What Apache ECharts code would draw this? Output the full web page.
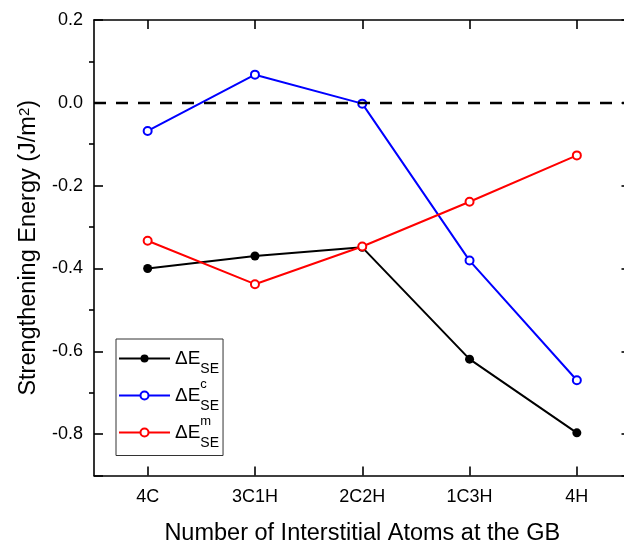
<!DOCTYPE html>
<html>
<head>
<meta charset="utf-8">
<script src="https://cdn.jsdelivr.net/npm/echarts@6/dist/echarts.min.js"></script>
<style>
html,body{margin:0;padding:0;background:#fff;}
#c{width:624px;height:541px;}
</style>
</head>
<body>
<div id="c"></div>
<script>
// ---- data ----
const categories = ['4C', '3C1H', '2C2H', '1C3H', '4H'];
const seriesNames = ['dE_SE', 'dE_c_SE', 'dE_m_SE'];
const totalSE = [-0.400, -0.370, -0.349, -0.619, -0.797];
const chemSE = [-0.068, 0.068, -0.002, -0.381, -0.670];
const mechSE = [-0.333, -0.438, -0.347, -0.239, -0.127];
const yMin = -0.9, yMax = 0.2;
const refLine = 0;

const FONT = '"Liberation Sans", Arial, Helvetica, sans-serif';
const legendText = {
  'dE_SE': '{E|ΔE}{sub|SE}',
  'dE_c_SE': '{E|ΔE}{sup|c}{sub|SE}',
  'dE_m_SE': '{E|ΔE}{sup|m}{sub|SE}'
};
const axisLine = {show: true, onZero: false, lineStyle: {color: '#000', width: 1.6}};

const chart = echarts.init(document.getElementById('c'), null, {renderer: 'canvas'});
chart.setOption({
  animation: false,
  backgroundColor: '#fff',
  textStyle: {fontFamily: FONT},
  grid: {left: 94, top: 20, width: 536.5, height: 455.5, containLabel: false, outerBoundsMode: 'none'},
  legend: {
    orient: 'vertical',
    left: 116, top: 339,
    padding: [10, 4, 5, 2],
    itemGap: 1,
    itemWidth: 51, itemHeight: 10,
    borderColor: '#333', borderWidth: 1,
    backgroundColor: '#fff',
    selectedMode: false,
    data: seriesNames,
    formatter: n => legendText[n],
    textStyle: {
      fontFamily: FONT, color: '#000',
      rich: {
        E: {fontSize: 19, fontFamily: FONT, color: '#000', lineHeight: 36, verticalAlign: 'middle'},
        sup: {fontSize: 13, fontFamily: FONT, color: '#000', lineHeight: 22, verticalAlign: 'top', width: 0},
        sub: {fontSize: 14, fontFamily: FONT, color: '#000', lineHeight: 14, verticalAlign: 'bottom'}
      }
    }
  },
  xAxis: [{
    type: 'category', data: categories, position: 'bottom', boundaryGap: true,
    axisLine: axisLine,
    axisTick: {show: true, inside: true, alignWithLabel: true, length: 9, lineStyle: {color: '#000', width: 1.6}},
    axisLabel: {fontSize: 18, color: '#000', fontFamily: FONT, margin: 13},
    splitLine: {show: false},
    name: 'Number of Interstitial Atoms at the GB', nameLocation: 'middle', nameGap: 46,
    nameTextStyle: {fontSize: 23.5, color: '#000', fontFamily: FONT}
  }, {
    type: 'category', data: categories, position: 'top', boundaryGap: true,
    axisLine: axisLine,
    axisTick: {show: true, inside: true, alignWithLabel: true, length: 9, lineStyle: {color: '#000', width: 1.6}},
    axisLabel: {show: false}, splitLine: {show: false}
  }],
  yAxis: [{
    type: 'value', min: yMin, max: yMax, splitNumber: 5, position: 'left',
    axisLine: axisLine,
    axisTick: {show: true, inside: true, length: 9, lineStyle: {color: '#000', width: 1.6}},
    minorTick: {show: true, splitNumber: 2, length: -5, lineStyle: {color: '#000', width: 1.6}},
    axisLabel: {fontSize: 18, color: '#000', fontFamily: FONT, margin: 11,
      formatter: v => Math.abs(v - yMin) < 1e-6 ? '' : v.toFixed(1)},
    splitLine: {show: false},
    name: 'Strengthening Energy (J/m{sup|2})', nameLocation: 'middle', nameGap: 53,
    nameTextStyle: {fontSize: 23.5, color: '#000', fontFamily: FONT,
      rich: {sup: {fontSize: 15, fontFamily: FONT, color: '#000', verticalAlign: 'top', lineHeight: 22}}}
  }, {
    type: 'value', min: yMin, max: yMax, splitNumber: 5, position: 'right',
    axisLine: axisLine,
    axisTick: {show: true, inside: true, length: 9, lineStyle: {color: '#000', width: 1.6}},
    axisLabel: {show: false}, splitLine: {show: false}
  }],
  series: [{
    name: seriesNames[0], type: 'line', data: totalSE,
    symbol: 'circle', symbolSize: 9,
    itemStyle: {color: '#000'},
    lineStyle: {color: '#000', width: 2},
    markLine: {
      silent: true, symbol: ['none', 'none'], label: {show: false},
      lineStyle: {color: '#000', width: 2.4, type: [12, 10]},
      data: [{yAxis: refLine}]
    },
    z: 3
  }, {
    name: seriesNames[1], type: 'line', data: chemSE,
    symbol: 'emptyCircle', symbolSize: 8,
    itemStyle: {color: '#0000ff', borderColor: '#0000ff', borderWidth: 1.8},
    lineStyle: {color: '#0000ff', width: 2},
    z: 4
  }, {
    name: seriesNames[2], type: 'line', data: mechSE,
    symbol: 'emptyCircle', symbolSize: 8,
    itemStyle: {color: '#ff0000', borderColor: '#ff0000', borderWidth: 1.8},
    lineStyle: {color: '#ff0000', width: 2},
    z: 5
  }]
});
</script>
</body>
</html>
